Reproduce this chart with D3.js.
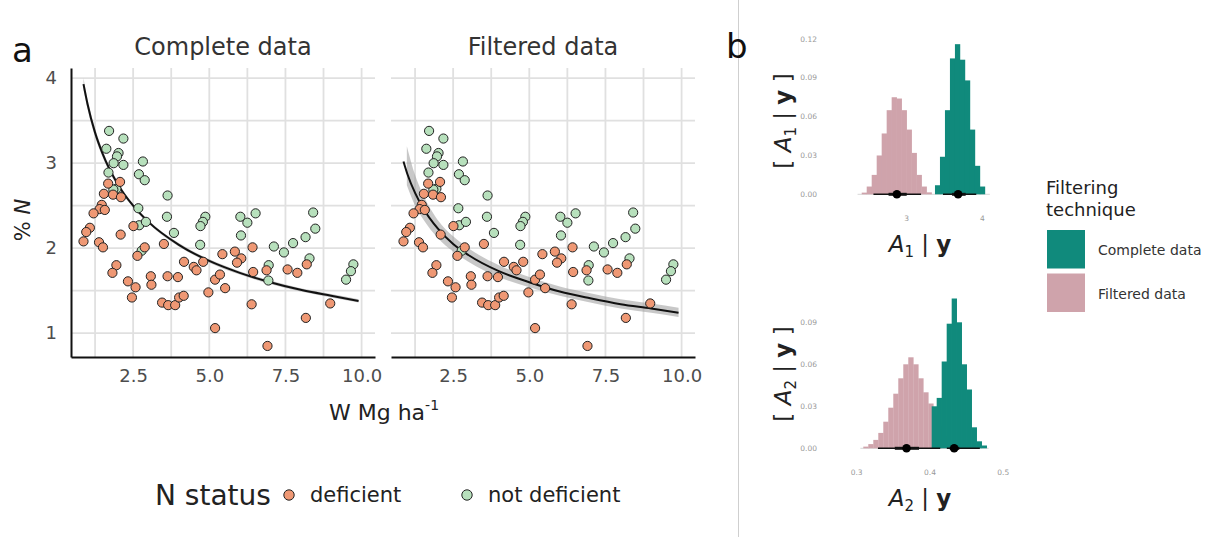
<!DOCTYPE html>
<html>
<head>
<meta charset="utf-8">
<script src="https://cdn.jsdelivr.net/npm/d3@7"></script>
<style>
  body { margin: 0; background: #fff; }
  text { font-family: "DejaVu Sans", sans-serif; }
</style>
</head>
<body>
<svg id="chart" width="1210" height="537"></svg>
<script>
// ---- panel a data: biomass (W) vs %N ----
const deficientW = [1.68, 2.07, 1.84, 1.54, 2.10, 1.47, 1.40, 1.57, 1.20, 1.08, 0.96, 0.87, 1.38, 1.51, 2.09, 2.51,
  2.64, 2.88, 3.51, 1.95, 1.82, 2.33, 2.58, 2.46, 3.08, 3.10, 3.63, 3.97, 3.45, 3.65, 3.88, 4.01, 4.16, 4.17, 4.49,
  4.58, 4.80, 4.97, 5.19, 5.35, 5.52, 5.43, 5.84, 6.05, 5.91, 6.42, 6.44, 6.88, 7.57, 7.89, 8.20, 6.39, 5.19, 6.91,
  8.17, 8.97];
const deficientN = [2.76, 2.78, 2.63, 2.64, 2.60, 2.51, 2.46, 2.45, 2.41, 2.24, 2.19, 2.08, 2.07, 2.01, 2.16, 2.26,
  1.91, 2.01, 2.05, 1.80, 1.71, 1.61, 1.54, 1.42, 1.67, 1.57, 1.67, 1.66, 1.36, 1.33, 1.33, 1.42, 1.44, 1.84, 1.78,
  1.74, 1.84, 1.48, 1.63, 1.69, 1.53, 1.93, 1.96, 1.88, 1.83, 2.01, 1.72, 1.74, 1.75, 1.71, 1.81, 1.34, 1.06, 0.85,
  1.18, 1.35];
const okW = [1.95, 1.85, 1.71, 2.18, 1.62, 2.02, 1.97, 1.86, 2.18, 2.82, 1.69, 2.69, 2.88, 3.63, 2.67, 3.61, 4.87,
  4.79, 4.71, 2.70, 2.92, 3.84, 6.02, 6.25, 6.52, 6.04, 4.70, 8.41, 8.48, 8.16, 7.75, 7.12, 7.45, 8.29, 6.95, 6.94,
  9.73, 9.65, 9.49, 2.78];
const okN = [2.70, 2.69, 3.38, 3.29, 3.17, 3.12, 3.08, 3.00, 2.98, 3.02, 2.89, 2.87, 2.80, 2.62, 2.47, 2.37, 2.37,
  2.31, 2.26, 2.27, 2.31, 2.18, 2.37, 2.30, 2.41, 2.15, 2.04, 2.42, 2.23, 2.13, 2.06, 2.02, 1.95, 1.88, 1.80, 1.62,
  1.81, 1.73, 1.63, 1.97];

// fitted dilution curves
const fitW = [0.87, 1.0, 1.25, 1.5, 2, 2.5, 3, 4, 5, 6, 7, 8, 9, 9.9];
const fitComplete = [3.93, 3.70, 3.36, 3.11, 2.75, 2.50, 2.31, 2.04, 1.85, 1.71, 1.60, 1.51, 1.44, 1.38];
const bandCompleteLo = [3.86, 3.64, 3.31, 3.07, 2.72, 2.48, 2.29, 2.02, 1.83, 1.69, 1.58, 1.49, 1.42, 1.36];
const bandCompleteHi = [4.00, 3.76, 3.41, 3.15, 2.78, 2.52, 2.33, 2.06, 1.87, 1.73, 1.62, 1.53, 1.46, 1.40];
const fitFiltered = [3.02, 2.87, 2.65, 2.48, 2.23, 2.05, 1.92, 1.73, 1.60, 1.49, 1.41, 1.34, 1.29, 1.24];
const bandW = [0.98, 1.25, 1.5, 2, 2.5, 3, 4, 5, 6, 7, 8, 9, 9.9];
const bandFilteredLo = [2.74, 2.50, 2.35, 2.12, 1.96, 1.84, 1.66, 1.54, 1.44, 1.36, 1.29, 1.24, 1.19];
const bandFilteredHi = [3.20, 2.86, 2.64, 2.33, 2.14, 2.00, 1.80, 1.66, 1.55, 1.47, 1.40, 1.35, 1.30];

const facets = ["Complete data", "Filtered data"];
const xTicks = [2.5, 5.0, 7.5, 10.0];
const yTicks = [1, 2, 3, 4];

// ---- panel b data: posterior histograms ----
const a1Width = 0.066;
const a1FilteredStart = 2.405;
const a1Filtered = [0.0013, 0.006, 0.015, 0.030, 0.047, 0.065, 0.075, 0.074, 0.065, 0.050, 0.032, 0.015, 0.006, 0.0015];
const a1CompleteStart = 3.374;
const a1Complete = [0.007, 0.029, 0.065, 0.105, 0.116, 0.104, 0.088, 0.050, 0.022, 0.006];
const a2Width = 0.00682;
const a2FilteredStart = 0.309;
const a2Filtered = [0.0012, 0.003, 0.006, 0.011, 0.019, 0.029, 0.039, 0.050, 0.060, 0.065, 0.060, 0.050, 0.040,
  0.032, 0.024, 0.016, 0.009, 0.004];
const a2CompleteStart = 0.4023;
const a2Complete = [0.030, 0.036, 0.062, 0.089, 0.107, 0.090, 0.060, 0.042, 0.015, 0.005, 0.002];
// point intervals: [thin lo, thick lo, point, thick hi, thin hi]
const a1FilteredInt = [2.56, 2.76, 2.87, 3.00, 3.19];
const a1CompleteInt = [3.48, 3.60, 3.68, 3.78, 3.92];
const a2FilteredInt = [0.329, 0.352, 0.368, 0.385, 0.414];
const a2CompleteInt = [0.423, 0.427, 0.433, 0.440, 0.468];

const legendItems = ["Complete data", "Filtered data"];
const teal = "#108a7c", pink = "#cfa3ab";
const orange = "#ef9874", green = "#b7e0bc";

const svg = d3.select("#chart");

// ----------------- panel a -----------------
const y = d3.scaleLinear().domain([0.72, 4.12]).range([357, 68]);
const panelX = [
  d3.scaleLinear().domain([0.46, 10.44]).range([71, 375]),
  d3.scaleLinear().domain([0.46, 10.44]).range([391, 695])
];

facets.forEach((name, i) => {
  const x = panelX[i];
  const g = svg.append("g");
  // grid
  const gx = d3.range(1.25, 10.01, 1.25);
  const gy = d3.range(1, 4.01, 0.5);
  g.selectAll(".vg").data(gx).join("line")
    .attr("x1", d => x(d)).attr("x2", d => x(d))
    .attr("y1", y.range()[1]).attr("y2", y.range()[0])
    .attr("stroke", "#e0e0e0").attr("stroke-width", 1.8);
  g.selectAll(".hg").data(gy).join("line")
    .attr("x1", x.range()[0]).attr("x2", x.range()[1])
    .attr("y1", d => y(d)).attr("y2", d => y(d))
    .attr("stroke", "#e0e0e0").attr("stroke-width", 1.8);

  // ribbon + curve
  const fit = i === 0 ? fitComplete : fitFiltered;
  const bw = i === 0 ? fitW : bandW;
  const lo = i === 0 ? bandCompleteLo : bandFilteredLo;
  const hi = i === 0 ? bandCompleteHi : bandFilteredHi;
  const area = d3.area().curve(d3.curveMonotoneX)
    .x((d, k) => x(bw[k])).y0((d, k) => y(lo[k])).y1((d, k) => y(hi[k]));
  g.append("path").datum(bw).attr("d", area).attr("fill", "#9a9a9a").attr("opacity", 0.55);
  const line = d3.line().curve(d3.curveMonotoneX).x((d, k) => x(fitW[k])).y(d => y(d));
  g.append("path").datum(fit).attr("d", line).attr("fill", "none")
    .attr("stroke", "#111").attr("stroke-width", 2);

  // points
  g.selectAll(".ok").data(okW).join("circle")
    .attr("cx", d => x(d)).attr("cy", (d, k) => y(okN[k])).attr("r", 4.6)
    .attr("fill", green).attr("stroke", "#222").attr("stroke-width", 1);
  g.selectAll(".def").data(deficientW).join("circle")
    .attr("cx", d => x(d)).attr("cy", (d, k) => y(deficientN[k])).attr("r", 4.6)
    .attr("fill", orange).attr("stroke", "#222").attr("stroke-width", 1);

  // axes
  const xAxis = d3.axisBottom(x).tickValues(xTicks).tickFormat(d3.format(".1f")).tickSize(0).tickPadding(12);
  const ax = g.append("g").attr("transform", "translate(0,357)").call(xAxis);
  ax.select(".domain").attr("stroke", "#111").attr("stroke-width", 2);
  ax.selectAll("text").attr("font-size", 18).attr("fill", "#4d4d4d").attr("font-family", "DejaVu Sans");
  if (i === 0) {
    const ay = g.append("g").attr("transform", "translate(71,0)")
      .call(d3.axisLeft(y).tickValues(yTicks).tickFormat(d3.format("d")).tickSize(0).tickPadding(14));
    ay.select(".domain").attr("stroke", "#111").attr("stroke-width", 2);
    ay.selectAll("text").attr("font-size", 18).attr("fill", "#4d4d4d").attr("font-family", "DejaVu Sans");
  }
  g.append("text").attr("x", (x.range()[0] + x.range()[1]) / 2).attr("y", 55)
    .attr("text-anchor", "middle").attr("font-size", 24).attr("fill", "#333").text(name);
});

svg.append("text").attr("x", 12).attr("y", 62).attr("font-size", 34).attr("fill", "#111").text("a");

const yl = svg.append("text").attr("transform", "translate(30,220) rotate(-90)")
  .attr("text-anchor", "middle").attr("font-size", 21).attr("fill", "#222");
yl.append("tspan").text("% ");
yl.append("tspan").attr("font-style", "italic").text("N");

const xl = svg.append("text").attr("x", 384).attr("y", 420)
  .attr("text-anchor", "middle").attr("font-size", 22).attr("fill", "#222");
xl.append("tspan").text("W Mg ha");
xl.append("tspan").attr("dy", -10).attr("font-size", 14).text("-1");

// bottom legend
svg.append("text").attr("x", 155).attr("y", 505).attr("font-size", 28).attr("fill", "#222").text("N status");
const lg = [{ c: orange, t: "deficient", x: 289 }, { c: green, t: "not deficient", x: 467 }];
lg.forEach(d => {
  svg.append("circle").attr("cx", d.x).attr("cy", 495).attr("r", 5.2)
    .attr("fill", d.c).attr("stroke", "#222").attr("stroke-width", 1);
  svg.append("text").attr("x", d.x + 21).attr("y", 502).attr("font-size", 21).attr("fill", "#222").text(d.t);
});

// divider
svg.append("line").attr("x1", 738.5).attr("x2", 738.5).attr("y1", 0).attr("y2", 537)
  .attr("stroke", "#cfcfcf").attr("stroke-width", 1);

// ----------------- panel b -----------------
svg.append("text").attr("x", 726).attr("y", 58).attr("font-size", 34).attr("fill", "#111").text("b");

function histPanel(cfg) {
  const g = svg.append("g");
  const x = d3.scaleLinear().domain(cfg.xDom).range(cfg.xRange);
  const yy = d3.scaleLinear().domain(cfg.yDom).range(cfg.yRange);
  g.selectAll(".yt").data(cfg.yTicks).join("text")
    .attr("x", 817).attr("y", d => yy(d) + 2.5).attr("text-anchor", "end")
    .attr("font-size", 7.5).attr("fill", "#999").text(d => d3.format(".2f")(d));
  g.selectAll(".xt").data(cfg.xTicks).join("text")
    .attr("x", d => x(d)).attr("y", cfg.xTickY).attr("text-anchor", "middle")
    .attr("font-size", 7.5).attr("fill", "#999").text(cfg.xFmt);
  g.append("line").attr("x1", x(cfg.baseFrom)).attr("x2", x(cfg.baseTo))
    .attr("y1", yy(0)).attr("y2", yy(0)).attr("stroke", "#d8d8d8").attr("stroke-width", 1);
  const bars = (start, vals, w, col) => {
    g.append("g").selectAll("rect").data(vals).join("rect")
      .attr("x", (d, k) => x(start + k * w)).attr("width", (d, k) => x(start + (k + 1) * w) - x(start + k * w) + 0.3)
      .attr("y", d => yy(d)).attr("height", d => yy(0) - yy(d)).attr("fill", col);
  };
  bars(cfg.fStart, cfg.filtered, cfg.w, pink);
  bars(cfg.cStart, cfg.complete, cfg.w, teal);
  [cfg.fInt, cfg.cInt].forEach(iv => {
    g.append("line").attr("x1", x(iv[0])).attr("x2", x(iv[4])).attr("y1", yy(0)).attr("y2", yy(0))
      .attr("stroke", "#111").attr("stroke-width", 1.5);
    g.append("line").attr("x1", x(iv[1])).attr("x2", x(iv[3])).attr("y1", yy(0)).attr("y2", yy(0))
      .attr("stroke", "#111").attr("stroke-width", 3);
    g.append("circle").attr("cx", x(iv[2])).attr("cy", yy(0)).attr("r", 4.3).attr("fill", "#000");
  });
  // titles
  const yt = svg.append("text").attr("transform", `translate(${cfg.yTitleX},${cfg.yTitleY}) rotate(-90)`)
    .attr("text-anchor", "middle").attr("font-size", 23).attr("fill", "#222");
  yt.append("tspan").text("[ ");
  yt.append("tspan").attr("font-style", "italic").text("A");
  yt.append("tspan").attr("font-size", 15).attr("dy", 5).text(cfg.sub);
  yt.append("tspan").attr("dy", -5).text(" | ");
  yt.append("tspan").attr("font-weight", "bold").text("y");
  yt.append("tspan").text(" ]");
  const xt = svg.append("text").attr("x", 920).attr("y", cfg.xTitleY)
    .attr("text-anchor", "middle").attr("font-size", 23).attr("fill", "#222");
  xt.append("tspan").attr("font-style", "italic").text("A");
  xt.append("tspan").attr("font-size", 15).attr("dy", 5).text(cfg.sub);
  xt.append("tspan").attr("dy", -5).text(" | ");
  xt.append("tspan").attr("font-weight", "bold").text("y");
}

histPanel({
  xDom: [3, 4], xRange: [906.7, 982.3], yDom: [0, 0.12], yRange: [194.3, 39],
  yTicks: [0, 0.03, 0.06, 0.09, 0.12], xTicks: [3, 4], xFmt: d => d, xTickY: 221,
  baseFrom: 2.35, baseTo: 4.1,
  w: a1Width, fStart: a1FilteredStart, filtered: a1Filtered, cStart: a1CompleteStart, complete: a1Complete,
  fInt: a1FilteredInt, cInt: a1CompleteInt,
  yTitleX: 791, yTitleY: 121, xTitleY: 252, sub: "1"
});
histPanel({
  xDom: [0.3, 0.5], xRange: [856.7, 1003.3], yDom: [0, 0.09], yRange: [448.3, 322.3],
  yTicks: [0, 0.03, 0.06, 0.09], xTicks: [0.3, 0.4, 0.5], xFmt: d => d3.format(".1f")(d), xTickY: 475,
  baseFrom: 0.305, baseTo: 0.48,
  w: a2Width, fStart: a2FilteredStart, filtered: a2Filtered, cStart: a2CompleteStart, complete: a2Complete,
  fInt: a2FilteredInt, cInt: a2CompleteInt,
  yTitleX: 791, yTitleY: 374, xTitleY: 506, sub: "2"
});

// legend panel b
svg.append("text").attr("x", 1046).attr("y", 194).attr("font-size", 18).attr("fill", "#222").text("Filtering");
svg.append("text").attr("x", 1046).attr("y", 216).attr("font-size", 18).attr("fill", "#222").text("technique");
legendItems.forEach((t, k) => {
  svg.append("rect").attr("x", 1047).attr("y", 230 + k * 43.5).attr("width", 38).attr("height", 38.5)
    .attr("fill", k === 0 ? teal : pink);
  svg.append("text").attr("x", 1098).attr("y", 255 + k * 43.5).attr("font-size", 14).attr("fill", "#333").text(t);
});
</script>
</body>
</html>
